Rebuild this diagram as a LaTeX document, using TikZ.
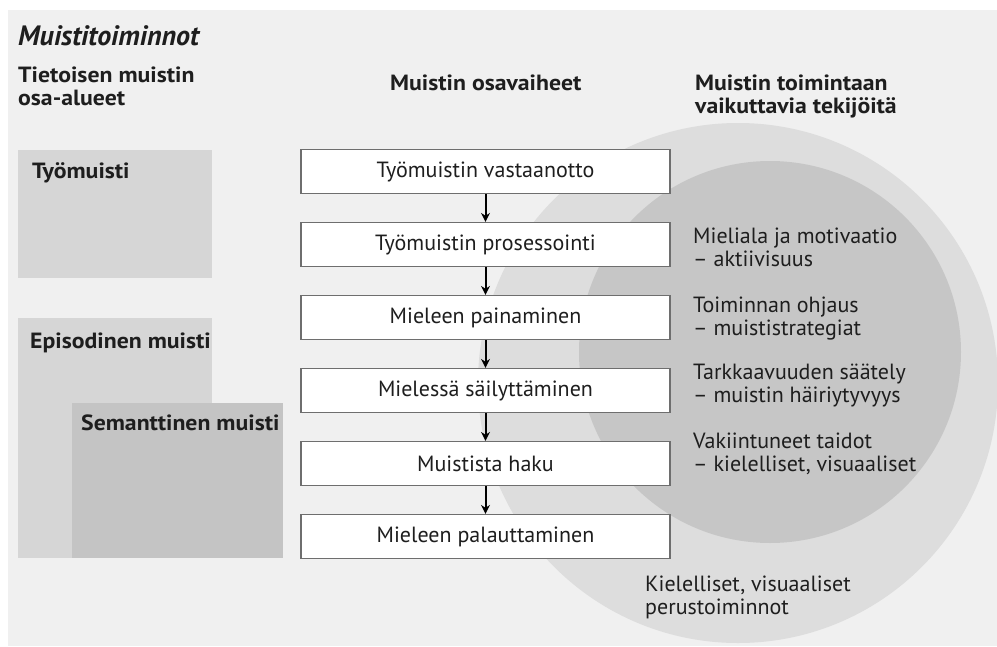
\documentclass[tikz,border=0pt]{standalone}
\usepackage{fontspec}
\setmainfont{PT Sans}
\newfontfamily\hdrfont[FakeStretch=1.08]{PT Sans}
\usetikzlibrary{arrows.meta}
\definecolor{panel}{HTML}{F0F0F0}
\definecolor{outerc}{HTML}{DDDDDD}
\definecolor{innerc}{HTML}{C6C6C6}
\definecolor{leftbox}{HTML}{D6D6D6}
\definecolor{sembox}{HTML}{C4C4C4}
\definecolor{boxline}{HTML}{6E6E6E}
\definecolor{ink}{HTML}{1E1E1E}
\newcommand{\mytwo}[2]{\begin{tabular}[t]{@{}l@{}}#1\\#2\end{tabular}}
\tikzset{
  txt/.style={anchor=base west, inner sep=0pt, text=ink, font=\fontsize{22}{23}\selectfont},
  hdr/.style={txt, font=\fontsize{22}{23}\selectfont\hdrfont\bfseries},
  stepbox/.style={draw=boxline, line width=1.2pt, fill=white, minimum width=369pt, minimum height=44pt, inner sep=0pt, text=ink, font=\fontsize{22}{23}\selectfont},
  flow/.style={draw=black, line width=2pt, -{Stealth[length=9pt,width=9pt]}}
}
\begin{document}
\begin{tikzpicture}[x=1pt,y=-1pt]
\useasboundingbox (0,0) rectangle (997,646);
\fill[white] (0,0) rectangle (997,646);
\fill[panel] (8,10) rectangle (997,646);
% circles
\fill[outerc] (738,383) circle[radius=260];
\fill[innerc] (770,352) circle[radius=191];
% left boxes
\fill[leftbox] (18,150) rectangle (212,278);
\fill[leftbox] (18,318) rectangle (212,558);
\fill[sembox] (72,403) rectangle (283,558);
% title and headers
\node[txt, font=\fontsize{28}{32}\selectfont\bfseries\itshape] (title) at (18,45) {Muistitoiminnot};
\node[hdr] (h1) at (18,82) {\mytwo{Tietoisen muistin}{osa-alueet}};
\node[hdr] (h2) at (390,90) {Muistin osavaiheet};
\node[hdr] (h3) at (695,90) {\mytwo{Muistin toimintaan}{vaikuttavia tekijöitä}};
% left labels
\node[hdr] (l1) at (32,178) {Työmuisti};
\node[hdr] (l2) at (30,348) {Episodinen muisti};
\node[hdr] (l3) at (81,430) {Semanttinen muisti};
% step boxes
\node[stepbox] (b1) at (485.5,171.5) {Työmuistin vastaanotto};
\node[stepbox] (b2) at (485.5,244.5) {Työmuistin prosessointi};
\node[stepbox] (b3) at (485.5,317.5) {Mieleen painaminen};
\node[stepbox] (b4) at (485.5,390.5) {Mielessä säilyttäminen};
\node[stepbox] (b5) at (485.5,463.5) {Muistista haku};
\node[stepbox] (b6) at (485.5,536.5) {Mieleen palauttaminen};
\draw[flow] (b1.south) -- (b2.north);
\draw[flow] (b2.south) -- (b3.north);
\draw[flow] (b3.south) -- (b4.north);
\draw[flow] (b4.south) -- (b5.north);
\draw[flow] (b5.south) -- (b6.north);
% factor texts
\node[txt] (f1) at (693,243) {\mytwo{Mieliala ja motivaatio}{– aktiivisuus}};
\node[txt] (f2) at (693,312) {\mytwo{Toiminnan ohjaus}{– muististrategiat}};
\node[txt] (f3) at (693,379) {\mytwo{Tarkkaavuuden säätely}{– muistin häiriytyvyys}};
\node[txt] (f4) at (693,448) {\mytwo{Vakiintuneet taidot}{– kielelliset, visuaaliset}};
\node[txt] (f5) at (645,591) {\mytwo{Kielelliset, visuaaliset}{perustoiminnot}};
\end{tikzpicture}
\end{document}
